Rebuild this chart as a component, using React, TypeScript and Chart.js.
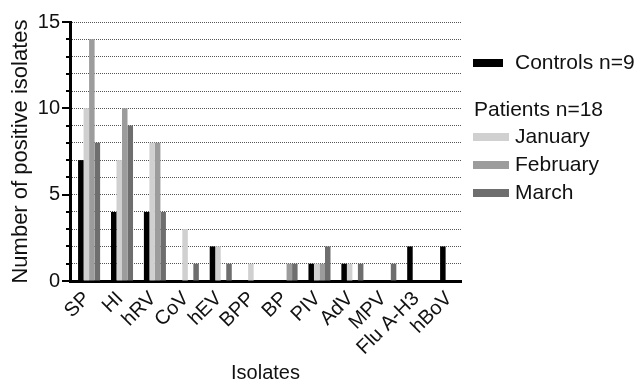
import React, { useEffect, useRef } from "react";
import { Chart, registerables } from "chart.js";

Chart.register(...registerables);

const categories = ["SP", "HI", "hRV", "CoV", "hEV", "BPP", "BP", "PIV", "AdV", "MPV", "Flu A-H3", "hBoV"];
const controls = [7, 4, 4, 0, 2, 0, 0, 1, 1, 0, 2, 2];
const january = [10, 7, 8, 3, 2, 1, 0, 1, 1, 0, 0, 0];
const february = [14, 10, 8, 0, 0, 0, 1, 1, 0, 0, 0, 0];
const march = [8, 9, 4, 1, 1, 0, 1, 2, 1, 1, 0, 0];

const seriesLabels = ["Controls n=9", "January", "February", "March"];
const seriesColors = ["#000000", "#d0d0d0", "#9c9c9c", "#6e6e6e"];
const patientsTitle = "Patients n=18";
const yTitle = "Number of positive isolates";
const xTitle = "Isolates";
const yMax = 15;

const FONT = '"Liberation Sans", Arial, Helvetica, sans-serif';

const yTickMarks = {
  id: "yTickMarks",
  afterDraw(chart: any) {
    const ctx = chart.ctx;
    const ys = chart.scales.y;
    const left = chart.chartArea.left;
    ctx.save();
    ctx.strokeStyle = "#000";
    ctx.lineWidth = 2;
    for (let v = 0; v <= yMax; v++) {
      const py = Math.round(ys.getPixelForValue(v));
      const len = v % 5 === 0 ? 8 : 4;
      ctx.beginPath();
      ctx.moveTo(left - len, py);
      ctx.lineTo(left, py);
      ctx.stroke();
    }
    ctx.restore();
  },
};

const customLegend = {
  id: "customLegend",
  afterDraw(chart: any) {
    const ctx = chart.ctx;
    const x0 = chart.chartArea.right + 12;
    const tx = x0 + 42;
    ctx.save();
    ctx.font = `21px ${FONT}`;
    ctx.fillStyle = "#111";
    ctx.textBaseline = "middle";
    ctx.textAlign = "left";
    ctx.fillStyle = seriesColors[0];
    ctx.fillRect(x0, 59, 30, 8);
    ctx.fillStyle = "#111";
    ctx.fillText(seriesLabels[0], tx, 63);
    ctx.fillText(patientsTitle, x0 + 1, 110);
    const rows = [137, 165, 193];
    for (let i = 1; i < 4; i++) {
      const cy = rows[i - 1];
      ctx.fillStyle = seriesColors[i];
      ctx.fillRect(x0, cy - 4, 36, 8);
      ctx.fillStyle = "#111";
      ctx.fillText(seriesLabels[i], tx, cy);
    }
    ctx.restore();
  },
};

export default function App() {
  const canvasRef = useRef<HTMLCanvasElement | null>(null);

  useEffect(() => {
    if (!canvasRef.current) return;
    Chart.defaults.font.family = FONT;
    Chart.defaults.color = "#111";
    const seriesData = [controls, january, february, march];
    const chart = new Chart(canvasRef.current, {
      type: "bar",
      data: {
        labels: categories.map((_, i) => i),
        datasets: seriesData.map((d, i) => ({
          label: seriesLabels[i],
          data: d,
          backgroundColor: seriesColors[i],
          borderWidth: 0,
          categoryPercentage: 0.67,
          barPercentage: 1,
        })),
      },
      options: {
        responsive: false,
        animation: false,
        devicePixelRatio: 1,
        layout: { padding: { left: 0, top: 20, right: 177, bottom: 0 } },
        plugins: {
          legend: { display: false },
          tooltip: { enabled: false },
        },
        scales: {
          x: {
            type: "linear",
            offset: false,
            min: -0.58,
            max: 11.3,
            afterBuildTicks: (s: any) => {
              s.ticks = categories.map((_, i) => ({ value: i }));
            },
            afterFit: (s: any) => {
              s.height = 102;
            },
            ticks: {
              autoSkip: false,
              minRotation: 45,
              maxRotation: 45,
              padding: 6,
              labelOffset: -2,
              color: "#111",
              font: { size: 20, family: FONT },
              callback: (v: any) => categories[v as number] ?? "",
            },
            grid: { display: false, drawTicks: false, offset: false },
            border: { display: true, color: "#000", width: 3 },
            title: {
              display: true,
              text: xTitle,
              color: "#111",
              font: { size: 20, family: FONT, lineHeight: 1 },
              padding: { top: 0, bottom: 0 },
            },
          },
          y: {
            min: 0,
            max: yMax,
            afterFit: (s: any) => {
              s.width = 70;
            },
            ticks: {
              stepSize: 1,
              autoSkip: false,
              padding: 10,
              color: "#111",
              font: { size: 20, family: FONT },
              callback: (v: any) => ((v as number) % 5 === 0 ? String(v) : ""),
            },
            grid: { color: "#555", lineWidth: 1, drawTicks: false },
            border: { display: true, color: "#000", width: 3, dash: [1, 1] },
            title: {
              display: true,
              text: yTitle,
              color: "#111",
              font: { size: 22, family: FONT, lineHeight: 1 },
              padding: { top: 10, bottom: 0 },
            },
          },
        },
      },
      plugins: [yTickMarks, customLegend],
    } as any);
    return () => chart.destroy();
  }, []);

  return (
    <div style={{ position: "absolute", left: 0, top: 0, width: 638, height: 383, background: "#fff" }}>
      <canvas ref={canvasRef} width={638} height={383} style={{ width: 638, height: 383, display: "block" }} />
    </div>
  );
}
